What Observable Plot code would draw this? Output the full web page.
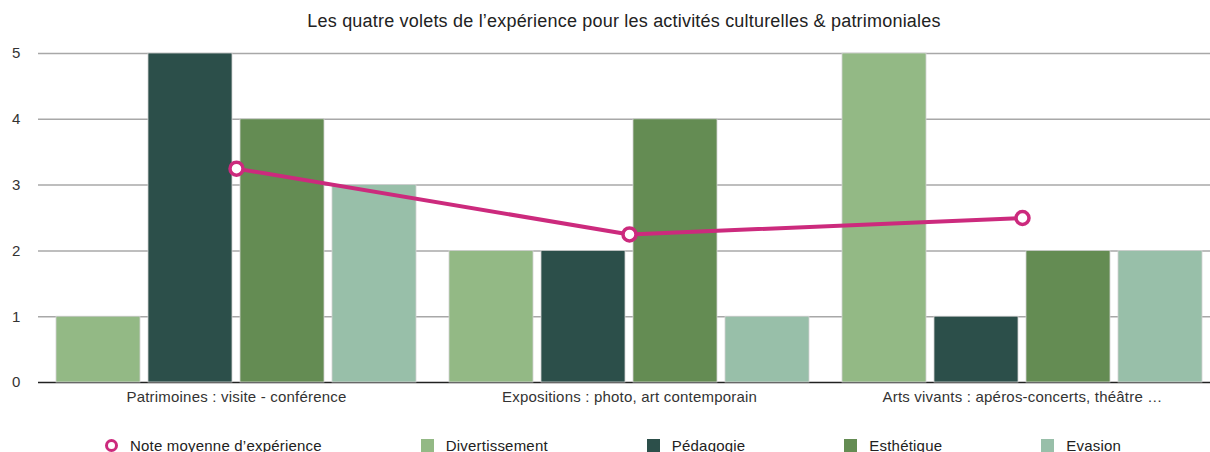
<!DOCTYPE html>
<html><head><meta charset="utf-8">
<script src="https://cdn.jsdelivr.net/npm/d3@7"></script>
<script src="https://cdn.jsdelivr.net/npm/@observablehq/plot@0.6"></script>
<style>
body{margin:0;background:#fff;font-family:"Liberation Sans",Arial,Helvetica,sans-serif;}
#wrap{position:relative;width:1210px;height:452px;overflow:hidden;}
#title{position:absolute;left:38px;right:0;top:11px;text-align:center;font-size:18px;letter-spacing:0.2px;color:#222;}
#chart{position:absolute;left:0;top:38px;width:1210px;height:380px;}
#chart svg{position:absolute;left:0;top:0;background:transparent;}
#chart text{letter-spacing:0.2px;}
#legend{position:absolute;left:105px;top:437px;display:flex;gap:99px;align-items:center;font-size:15px;letter-spacing:0.2px;color:#222;}
.item{display:flex;align-items:center;gap:12px;height:16px;}
.sw{width:13px;height:13px;}
.ring{width:7px;height:7px;border:3px solid #cc2a7d;border-radius:50%;background:#fff;}
</style></head><body>
<div id="wrap">
  <div id="title">Les quatre volets de l’expérience pour les activités culturelles &amp; patrimoniales</div>
  <div id="chart"></div>
  <div id="legend"></div>
</div>
<script>
const categories = ["Patrimoines : visite - conférence", "Expositions : photo, art contemporain", "Arts vivants : apéros-concerts, théâtre …"];
const seriesNames = ["Divertissement", "Pédagogie", "Esthétique", "Evasion"];
const divertissement = [1, 2, 5];
const pedagogie = [5, 2, 1];
const esthetique = [4, 4, 2];
const evasion = [3, 1, 2];
const noteMoyenne = [3.25, 2.25, 2.5];
const lineName = "Note moyenne d’expérience";
const seriesColors = ["#93b985", "#2c4f4a", "#648c53", "#98bfa9"];
const lineColor = "#cc2a7d";
const yTicks = [0, 1, 2, 3, 4, 5];

const seriesValues = [divertissement, pedagogie, esthetique, evasion];
const bars = [];
categories.forEach((c, i) => seriesNames.forEach((s, j) => bars.push({category: c, series: s, value: seriesValues[j][i]})));
const points = categories.map((c, i) => ({category: c, note: noteMoyenne[i]}));

const W = 1210, H = 380, MT = 15, MB = 36;
const font = {fontFamily: '"Liberation Sans", Arial, sans-serif', fontSize: 15, color: "#333", background: "transparent"};

const base = Plot.plot({
  width: W, height: H, marginTop: MT, marginBottom: MB, marginLeft: 38, marginRight: 0,
  style: font,
  y: {domain: [0, 5]},
  marks: [
    Plot.ruleY(yTicks.filter(d => d > 0), {stroke: "#a8a8a8", strokeWidth: 1.5}),
    Plot.ruleY([0], {stroke: "#222", strokeWidth: 1.5}),
    Plot.axisY(yTicks, {tickSize: 0, tickPadding: 18, label: null, fontSize: 15, tickFormat: d3.format("d")})
  ]
});

const barsPlot = Plot.plot({
  width: W, height: H, marginTop: MT, marginBottom: MB, marginLeft: 55, marginRight: 7,
  style: font,
  fx: {domain: categories, paddingInner: 0.084, paddingOuter: 0, label: null},
  x: {domain: seriesNames, paddingInner: 0.09, paddingOuter: 0, axis: null},
  y: {domain: [0, 5], axis: null},
  color: {domain: seriesNames, range: seriesColors},
  marks: [
    Plot.barY(bars, {fx: "category", x: "series", y: "value", fill: "series", stroke: "#d2d2d2", strokeWidth: 0.8}),
    Plot.axisFx({anchor: "bottom", tickSize: 0, tickPadding: 9, label: null, fontSize: 15})
  ]
});

const linePlot = Plot.plot({
  width: W, height: H, marginTop: MT, marginBottom: MB, marginLeft: 55, marginRight: 7,
  style: font,
  x: {type: "band", domain: categories, paddingInner: 0.084, paddingOuter: 0, axis: null},
  y: {domain: [0, 5], axis: null},
  marks: [
    Plot.line(points, {x: "category", y: "note", stroke: lineColor, strokeWidth: 4}),
    Plot.dot(points, {x: "category", y: "note", r: 6.5, fill: "white", stroke: lineColor, strokeWidth: 3.5})
  ]
});

const chart = document.getElementById("chart");
chart.append(base, barsPlot, linePlot);

const legend = document.getElementById("legend");
const li = document.createElement("div");
li.className = "item";
li.innerHTML = `<div class="ring"></div><span>${lineName}</span>`;
legend.append(li);
seriesNames.forEach((s, j) => {
  const it = document.createElement("div");
  it.className = "item";
  it.innerHTML = `<div class="sw" style="background:${seriesColors[j]}"></div><span>${s}</span>`;
  legend.append(it);
});
</script>
</body></html>
